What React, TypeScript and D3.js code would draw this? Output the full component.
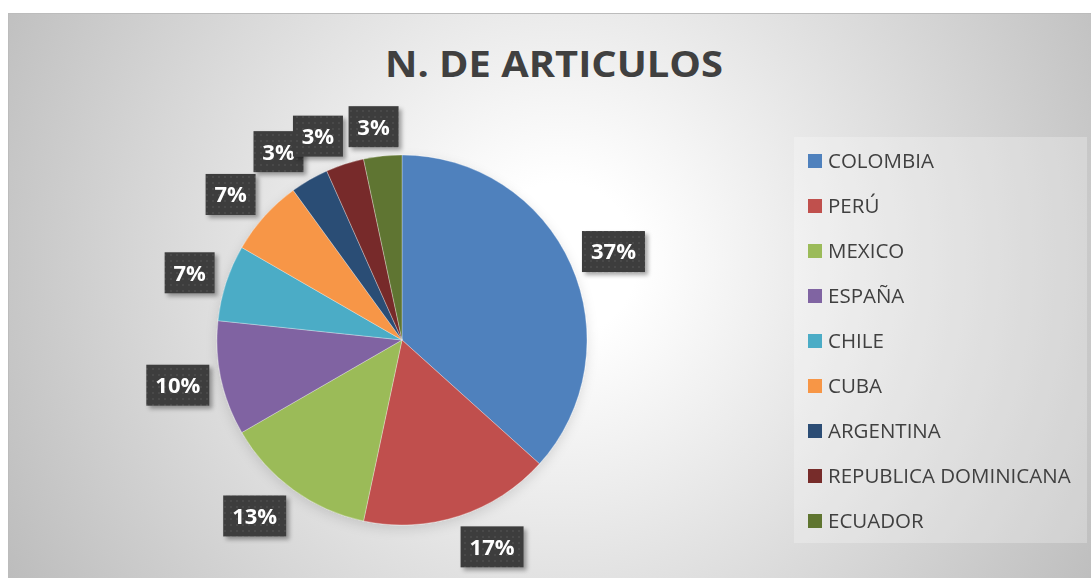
import React from "react";
import * as d3 from "d3";

const categories = ["COLOMBIA", "PERÚ", "MEXICO", "ESPAÑA", "CHILE", "CUBA", "ARGENTINA", "REPUBLICA DOMINICANA", "ECUADOR"];
const articles = [11, 5, 4, 3, 2, 2, 1, 1, 1];
const colors = ["#4F81BD", "#C0504D", "#9BBB59", "#8064A2", "#4BACC6", "#F79646", "#2C4D75", "#772C2A", "#5F7530"];
const title = "N. DE ARTICULOS";

const W = 1091, H = 578;
const CX = 402, CY = 340, R = 185;
const FONT = "'Open Sans', 'DejaVu Sans', sans-serif";

export default function App() {
  const total = d3.sum(articles);
  const pie = d3.pie<number>().sort(null).value((d) => d)(articles);
  const arc = d3.arc<d3.PieArcDatum<number>>().innerRadius(0).outerRadius(R);
  const fmt = d3.format(".0%");

  const labels = pie.map((p) => {
    const a = (p.startAngle + p.endAngle) / 2;
    const txt = fmt(p.value / total);
    const w = txt.length >= 3 ? 63 : 50;
    const h = 41;
    const rr = R + 12;
    const px = CX + Math.sin(a) * rr;
    const py = CY - Math.cos(a) * rr;
    const k = Math.max(-1, Math.min(1, Math.sin(a) * 3));
    const cx = px + (w / 2) * k;
    const cy = py - (h / 2) * Math.cos(a) + (Math.cos(a) > 0.9 ? 3 : 0);
    return { txt, w, h, cx, cy };
  });

  const legendY = d3.scalePoint<string>().domain(categories).range([161, 521]);

  return (
    <svg width={W} height={H} style={{ position: "absolute", left: 0, top: 0 }} fontFamily={FONT}>
      <defs>
        <radialGradient id="bg" gradientUnits="userSpaceOnUse" cx={560} cy={260} r={640}>
          <stop offset="0" stopColor="#ffffff" />
          <stop offset="0.12" stopColor="#ffffff" />
          <stop offset="1" stopColor="#bcbcbc" />
        </radialGradient>
        <pattern id="dots" width="6" height="6" patternUnits="userSpaceOnUse">
          <rect width="6" height="6" fill="#3c3c3c" />
          <circle cx="3" cy="3" r="1" fill="#4e4e4e" />
        </pattern>
        <filter id="shadow" x="-30%" y="-30%" width="160%" height="160%">
          <feDropShadow dx="3" dy="3" stdDeviation="2" floodColor="#000" floodOpacity="0.35" />
        </filter>
        <filter id="pieShadow" x="-20%" y="-20%" width="140%" height="140%">
          <feDropShadow dx="0" dy="4" stdDeviation="6" floodColor="#000" floodOpacity="0.12" />
        </filter>
      </defs>
      <rect x={8.5} y={13.5} width={W} height={H} fill="url(#bg)" stroke="#bcbcbc" strokeWidth={1} />
      <text x={554} y={77} textAnchor="middle" fontSize={35} fontWeight="bold" fill="#404040"
        textLength={338} lengthAdjust="spacingAndGlyphs">{title}</text>

      <g filter="url(#pieShadow)">
        {pie.map((p, i) => (
          <path key={i} d={arc(p) || ""} transform={`translate(${CX},${CY})`} fill={colors[i]} stroke="rgba(255,255,255,0.5)" strokeWidth={0.6} />
        ))}
      </g>

      {labels.map((l, i) => (
        <g key={i}>
          <rect x={l.cx - l.w / 2} y={l.cy - l.h / 2} width={l.w} height={l.h} fill="url(#dots)" filter="url(#shadow)" />
          <text x={l.cx} y={l.cy} dy="0.36em" textAnchor="middle" fontSize={22} fontWeight="bold" fill="#ffffff">{l.txt}</text>
        </g>
      ))}

      <rect x={794} y={137} width={293} height={406} fill="rgba(255,255,255,0.25)" />
      {categories.map((c, i) => (
        <g key={c} transform={`translate(808,${legendY(c)})`}>
          <rect x={0} y={-7} width={14} height={14} fill={colors[i]} />
          <text x={20} y={0} dy="0.36em" fontSize={20.5} fill="#404040">{c}</text>
        </g>
      ))}
    </svg>
  );
}
